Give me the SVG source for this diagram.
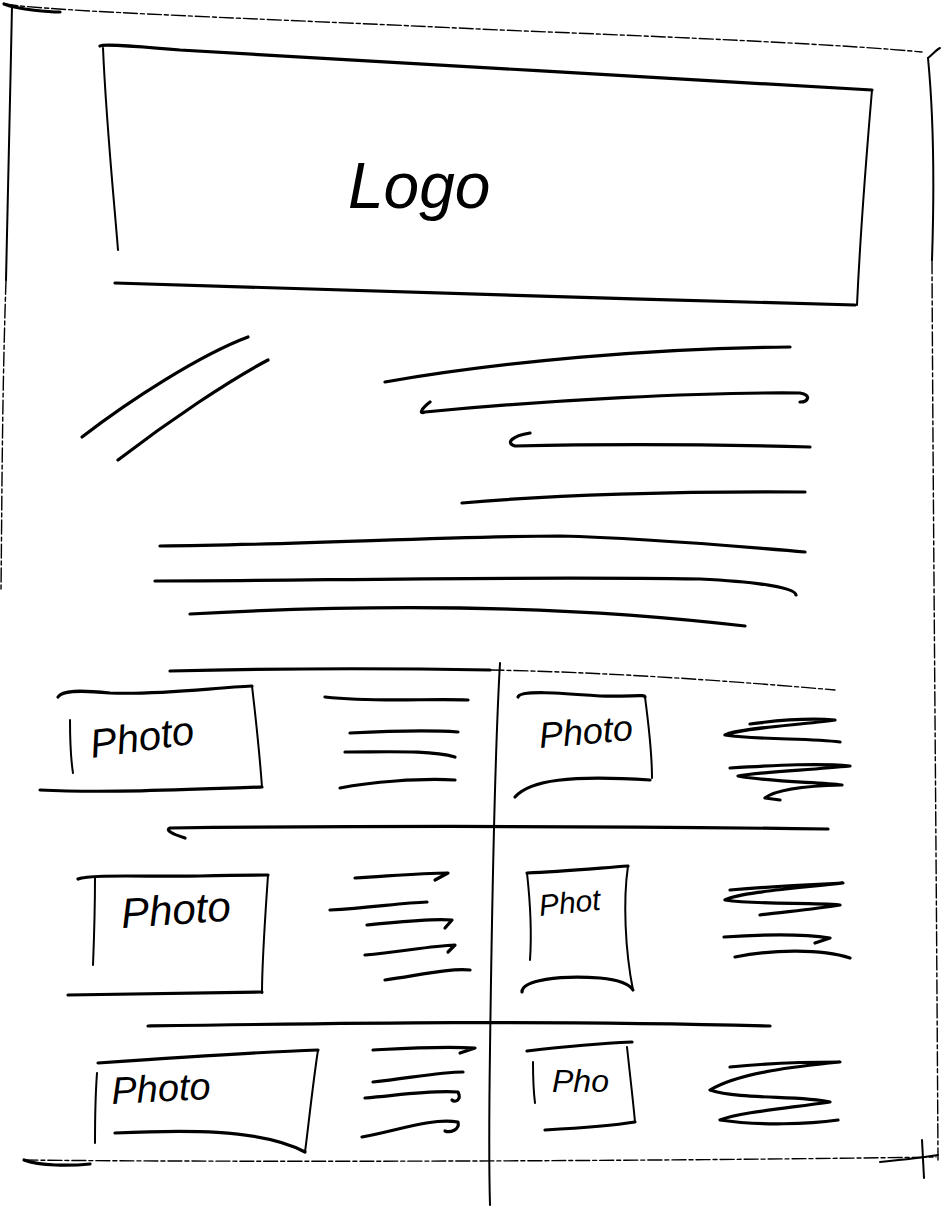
<svg xmlns="http://www.w3.org/2000/svg" width="944" height="1208" viewBox="0 0 944 1208">
<style>
.s{fill:none;stroke:#000;stroke-width:3.2;stroke-linecap:round;stroke-linejoin:round}
.t{fill:none;stroke:#000;stroke-width:2;stroke-linecap:round}
.d{fill:none;stroke:#000;stroke-width:1.4;stroke-dasharray:14 3 4 3;stroke-linecap:round}
.h{font-family:"Liberation Sans",sans-serif;font-style:italic;fill:#000}
</style>
<rect width="944" height="1208" fill="#fff"/>
<g id="page">
<path class="d" d="M4,4 C60,12 250,18 500,30 C700,38 850,45 922,52"/>
<path class="s" d="M4,4 C20,10 50,12 60,12"/>
<path class="t" d="M928,58 C932,55 936,50 940,48"/>
<path class="t" d="M928,58 C934,120 934,200 932,260"/>
<path class="d" d="M932,260 C933,500 936,800 938,1160"/>
<path class="t" d="M12,6 C10,100 8,200 6,280"/>
<path class="d" d="M6,280 C2,400 2,500 1,590"/>
<path class="d" d="M24,1160 C200,1162 600,1162 936,1157"/>
<path class="s" d="M24,1160 C40,1166 70,1166 90,1164"/>
<path class="t" d="M880,1162 C900,1160 920,1158 938,1155"/>
<path class="t" d="M922,1140 L924,1178"/>
</g>
<g id="logo">
<path class="s" d="M100,46 C103,44 120,45 180,50 C400,62 650,78 872,90"/>
<path class="t" d="M103,48 C106,120 114,200 118,250"/>
<path class="t" d="M872,90 C866,160 860,240 857,305"/>
<path class="s" d="M115,283 C300,290 600,298 855,305"/>
<text class="h" x="348" y="208" font-size="64">Logo</text>
</g>
<g id="text-block">
<path class="s" d="M82,437 C130,400 200,355 248,337"/>
<path class="s" d="M118,460 C170,420 230,380 268,360"/>
<path class="s" d="M385,382 C500,362 650,348 790,347"/>
<path class="s" d="M430,402 C422,408 418,415 425,412 C550,400 700,392 800,393 C812,395 808,402 800,402"/>
<path class="s" d="M530,433 C512,436 505,443 515,446 C600,444 700,444 810,447"/>
<path class="s" d="M462,503 C550,495 680,491 805,492"/>
<path class="s" d="M160,546 C300,545 450,536 560,536 C650,538 730,546 805,552"/>
<path class="s" d="M155,581 C300,581 500,576 700,579 C760,582 795,588 796,595"/>
<path class="s" d="M190,614 C350,605 550,603 745,626"/>
</g>
<g id="grid">
<path class="s" d="M170,671 C250,669 380,668 490,670"/>
<path class="d" d="M490,670 C600,672 720,680 835,690"/>
<path class="s" d="M185,838 C172,834 165,830 170,828 C350,826 600,826 828,829"/>
<path class="s" d="M148,1026 C350,1023 550,1020 770,1026"/>
<path class="t" d="M500,663 C495,750 492,900 490,1050 C489,1120 489,1170 490,1205"/>
</g>
<g id="item-1">
<path class="s" d="M58,697 C62,690 80,690 110,693 C160,695 210,688 252,686"/>
<path class="t" d="M252,686 C256,720 260,760 262,787"/>
<path class="s" d="M40,790 C100,793 180,790 262,787"/>
<path class="t" d="M70,720 C70,740 71,760 73,773"/>
<text class="h" x="92" y="758" font-size="40" transform="rotate(-8 92 758)">Photo</text>
<path class="s" d="M325,697 C380,703 430,698 468,700"/>
<path class="s" d="M350,733 C390,731 430,730 458,732"/>
<path class="s" d="M345,752 C390,752 430,750 455,757"/>
<path class="s" d="M340,788 C370,782 420,778 455,780"/>
</g>
<g id="item-2">
<path class="s" d="M518,697 C520,690 560,693 600,696 C630,697 645,694 645,697"/>
<path class="t" d="M645,697 C648,720 652,750 652,778"/>
<path class="s" d="M515,797 C530,780 570,775 650,780"/>
<text class="h" x="540" y="748" font-size="36" transform="rotate(-5 540 748)">Photo</text>
<path class="s" d="M750,724 C780,720 810,718 835,720 C800,725 740,728 725,735 C760,740 810,738 840,742"/>
<path class="s" d="M730,768 C780,765 820,763 850,766 C810,770 760,772 738,776 C770,782 820,782 842,785 C800,786 775,790 765,798 L780,800"/>
</g>
<g id="item-3">
<path class="s" d="M78,879 C90,874 150,877 200,876 C240,875 268,875 268,875"/>
<path class="t" d="M95,878 C95,910 94,940 93,965"/>
<path class="t" d="M268,875 C265,920 262,960 262,993"/>
<path class="s" d="M68,995 C150,994 210,993 262,992"/>
<text class="h" x="122" y="928" font-size="42" transform="rotate(-4 122 928)">Photo</text>
<path class="s" d="M355,878 C390,876 420,873 448,873 L435,880"/>
<path class="s" d="M330,910 C370,908 400,903 427,902"/>
<path class="s" d="M367,925 C400,922 430,918 452,920 L445,928"/>
<path class="s" d="M365,955 C400,952 430,946 455,945 L448,952"/>
<path class="s" d="M385,980 C420,975 450,968 470,970"/>
</g>
<g id="item-4">
<path class="s" d="M527,873 C560,872 600,868 628,866"/>
<path class="t" d="M527,873 C530,900 532,930 530,960"/>
<path class="t" d="M628,866 C623,900 625,950 633,990"/>
<path class="s" d="M522,992 C522,980 560,975 600,978 C620,980 630,985 633,990"/>
<text class="h" x="540" y="916" font-size="30" transform="rotate(-6 540 916)">Phot</text>
<path class="s" d="M730,890 C780,886 820,884 843,883 C800,888 740,892 725,900 C760,905 810,902 840,905 C810,910 780,912 760,915"/>
<path class="s" d="M724,937 C770,934 810,935 830,938 L815,943"/>
<path class="s" d="M735,957 C770,950 820,948 850,958"/>
</g>
<g id="item-5">
<path class="s" d="M98,1063 C170,1058 260,1052 318,1050"/>
<path class="t" d="M97,1073 C95,1100 95,1125 95,1143"/>
<path class="t" d="M318,1050 C312,1090 308,1130 305,1152"/>
<path class="s" d="M115,1133 C180,1130 260,1128 305,1152"/>
<text class="h" x="112" y="1104" font-size="38" transform="rotate(-3 112 1104)">Photo</text>
<path class="s" d="M373,1050 C410,1048 440,1046 475,1048 L460,1053"/>
<path class="s" d="M373,1082 C410,1078 440,1072 463,1072"/>
<path class="s" d="M365,1098 C400,1095 430,1090 458,1092 C462,1100 455,1103 452,1100"/>
<path class="s" d="M362,1137 C400,1130 430,1118 458,1122 C460,1130 450,1133 445,1131"/>
</g>
<g id="item-6">
<path class="s" d="M527,1051 C570,1046 610,1043 632,1042"/>
<path class="t" d="M533,1062 C533,1080 534,1095 535,1103"/>
<path class="t" d="M627,1047 C630,1075 633,1100 635,1122"/>
<path class="s" d="M545,1130 C580,1128 610,1126 635,1122"/>
<text class="h" x="552" y="1092" font-size="32">Pho</text>
<path class="s" d="M730,1067 C770,1063 810,1062 840,1062 C800,1066 740,1072 710,1090 C740,1100 800,1095 830,1102 C790,1108 740,1112 720,1120 C760,1126 810,1124 838,1120"/>
</g>
</svg>
